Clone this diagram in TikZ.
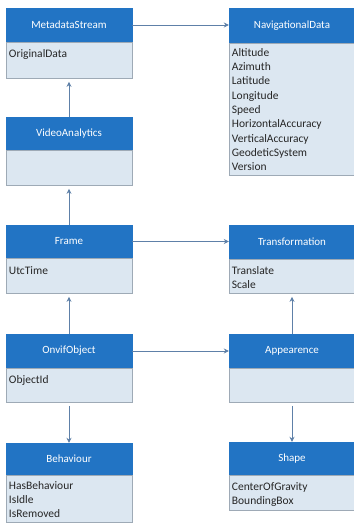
\documentclass[tikz,border=0pt]{standalone}
\usepackage{fontspec}
\setmainfont{Carlito}
\usetikzlibrary{arrows.meta,calc}
\definecolor{hdrblue}{HTML}{2274C4}
\definecolor{bodyfill}{HTML}{DCE7F1}
\definecolor{bodyline}{HTML}{9EAAB6}
\definecolor{connc}{HTML}{5E80A8}
\definecolor{tipc}{HTML}{34557E}
\tikzset{
  hdr/.style={rectangle, fill=hdrblue, draw=hdrblue, text=white, minimum width=126pt, inner sep=0pt,
    font=\fontsize{11}{13}\selectfont},
  bodybox/.style={rectangle, fill=bodyfill, draw=bodyline, line width=0.6pt, minimum width=126pt, inner sep=0pt},
  attr/.style={anchor=north west, inner sep=0pt, align=left, text=black!85,
    font=\fontsize{11.5}{14.3}\selectfont},
  conn/.style={draw=connc, line width=0.9pt},
  opentip/.style={conn, -{Stealth[length=5pt,width=5pt,fill=tipc]}},
  filltip/.style={conn, -{Stealth[length=5pt,width=5pt,fill=tipc]}}
}
\begin{document}
\begin{tikzpicture}[x=1pt,y=-1pt]
\useasboundingbox[fill=white] (0,0) rectangle (353,524);
% MetadataStream
\node[hdr, minimum height=34pt] (msh) at (69,25) {MetadataStream};
\node[bodybox, minimum height=36pt, anchor=north] (msb) at (msh.south) {};
\node[attr] (msa) at ($(msb.north west)+(3,7)$) {OriginalData};
% NavigationalData
\node[hdr, minimum height=35pt] (ndh) at (292,25.5) {NavigationalData};
\node[bodybox, minimum height=132pt, anchor=north] (ndb) at (ndh.south) {};
\node[attr] (nda) at ($(ndb.north west)+(3,5)$) {Altitude\\Azimuth\\Latitude\\Longitude\\Speed\\HorizontalAccuracy\\VerticalAccuracy\\GeodeticSystem\\Version};
% VideoAnalytics
\node[hdr, minimum height=33pt] (vah) at (69,133.5) {VideoAnalytics};
\node[bodybox, minimum height=35pt, anchor=north] (vab) at (vah.south) {};
% Frame
\node[hdr, minimum height=33pt] (frh) at (69,241.5) {Frame};
\node[bodybox, minimum height=35pt, anchor=north] (frb) at (frh.south) {};
\node[attr] (fra) at ($(frb.north west)+(3,8)$) {UtcTime};
% Transformation
\node[hdr, minimum height=34pt] (trh) at (292,242) {Transformation};
\node[bodybox, minimum height=34pt, anchor=north] (trb) at (trh.south) {};
\node[attr] (tra) at ($(trb.north west)+(3,7)$) {Translate\\Scale};
% OnvifObject
\node[hdr, minimum height=34pt] (ooh) at (69,351) {OnvifObject};
\node[bodybox, minimum height=34pt, anchor=north] (oob) at (ooh.south) {};
\node[attr] (ooa) at ($(oob.north west)+(3,7)$) {ObjectId};
% Appearence
\node[hdr, minimum height=34pt] (aph) at (292,351) {Appearence};
\node[bodybox, minimum height=34pt, anchor=north] (apb) at (aph.south) {};
% Behaviour
\node[hdr, minimum height=32pt] (beh) at (69,459) {Behaviour};
\node[bodybox, minimum height=47pt, anchor=north] (beb) at (beh.south) {};
\node[attr] (bea) at ($(beb.north west)+(3,6)$) {HasBehaviour\\IsIdle\\IsRemoved};
% Shape
\node[hdr, minimum height=33pt] (shh) at (292,458.5) {Shape};
\node[bodybox, minimum height=35pt, anchor=north] (shb) at (shh.south) {};
\node[attr] (sha) at ($(shb.north west)+(3,7)$) {CenterOfGravity\\BoundingBox};
% connectors
\draw[opentip] (msh.east) -- (msh.east -| ndh.west);
\draw[opentip] (frh.east) -- (frh.east -| trh.west);
\draw[opentip] (ooh.east) -- (ooh.east -| aph.west);
\draw[filltip] (vah.north) -- ($(msb.south)+(0,3)$);
\draw[filltip] (frh.north) -- ($(vab.south)+(0,3)$);
\draw[filltip] (ooh.north) -- ($(frb.south)+(0,3)$);
\draw[opentip] (aph.north) -- ($(trb.south)+(0,3)$);
\draw[opentip] ($(apb.south)+(0,3)$) -- (shh.north);
\draw[opentip] ($(oob.south)+(0,3)$) -- (beh.north);
\end{tikzpicture}
\end{document}
